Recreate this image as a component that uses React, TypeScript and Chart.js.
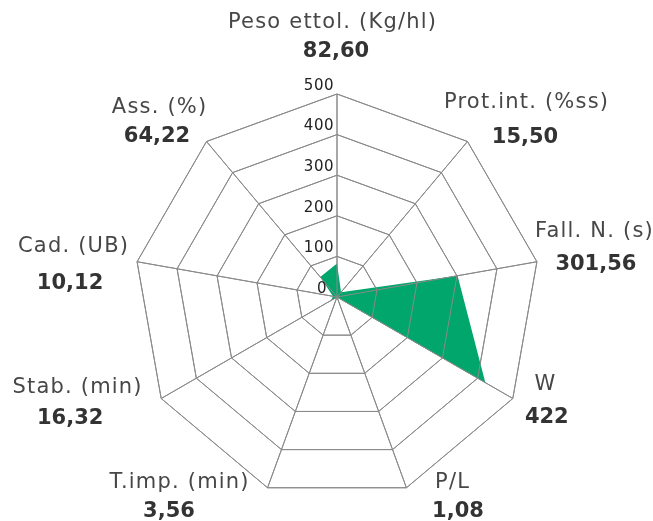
import React, { useEffect, useRef } from "react";
import { Chart, registerables } from "chart.js";
Chart.register(...registerables);

const categories = [
  "Peso ettol. (Kg/hl)",
  "Prot.int. (%ss)",
  "Fall. N. (s)",
  "W",
  "P/L",
  "T.imp. (min)",
  "Stab. (min)",
  "Cad. (UB)",
  "Ass. (%)",
];
const values = [82.6, 15.5, 301.56, 422, 1.08, 3.56, 16.32, 10.12, 64.22];
const valueLabels = ["82,60", "15,50", "301,56", "422", "1,08", "3,56", "16,32", "10,12", "64,22"];
const tickValues = [0, 100, 200, 300, 400, 500];

// layout: label offsets relative to each outer vertex
const NAME_OFFSETS = [
  [-5, -71], [58.5, -38.5], [57, -30], [32, -13.5], [45.6, -4.8],
  [-88.6, -4.8], [-84.2, -10.5], [-64.1, -14.8], [-47.5, -33.5],
];
const VALUE_OFFSETS = [
  [-1, -42], [57.5, -3.5], [59, 3], [34, 19.5], [51.6, 24],
  [-98.6, 24], [-91, 20.5], [-67, 22], [-49.5, -4.5],
];

const FONT = "'DejaVu Sans'";

const gridOnTopPlugin = {
  id: "gridOnTop",
  afterDatasetsDraw(chart: any) {
    const scale = chart.scales.r;
    scale.draw(chart.chartArea);
  },
};

const labelPlugin = {
  id: "radarLabels",
  afterDraw(chart: any) {
    const scale = chart.scales.r;
    const ctx = chart.ctx as CanvasRenderingContext2D;
    ctx.save();
    ctx.textAlign = "center";
    ctx.textBaseline = "middle";
    categories.forEach((name, i) => {
      const p = scale.getPointPosition(i, scale.drawingArea);
      ctx.font = `21px ${FONT}`;
      (ctx as any).letterSpacing = "1.2px";
      ctx.fillStyle = "#474747";
      ctx.fillText(name, p.x + NAME_OFFSETS[i][0] + 0.6, p.y + NAME_OFFSETS[i][1]);
      ctx.font = `bold 21px ${FONT}`;
      (ctx as any).letterSpacing = "0px";
      ctx.fillStyle = "#333333";
      ctx.fillText(valueLabels[i], p.x + VALUE_OFFSETS[i][0], p.y + VALUE_OFFSETS[i][1]);
    });
    ctx.font = `15px ${FONT}`;
    (ctx as any).letterSpacing = "0.5px";
    ctx.textAlign = "right";
    ctx.fillStyle = "#222222";
    tickValues.forEach((v) => {
      const d = scale.getDistanceFromCenterForValue(v);
      ctx.fillText(String(v), scale.xCenter - (v === 0 ? 10 : 3), scale.yCenter - d - 8);
    });
    ctx.restore();
  },
};

export default function App() {
  const ref = useRef<HTMLCanvasElement>(null);
  useEffect(() => {
    if (!ref.current) return;
    const chart = new Chart(ref.current, {
      type: "radar",
      data: {
        labels: categories,
        datasets: [
          {
            data: values,
            backgroundColor: "#00A66C",
            borderColor: "#00A66C",
            borderWidth: 0,
            pointRadius: 0,
            fill: true,
          },
        ],
      },
      options: {
        responsive: false,
        animation: false,
        layout: { padding: { left: 134, right: 113, top: 94, bottom: 21 } },
        plugins: { legend: { display: false }, tooltip: { enabled: false } },
        scales: {
          r: {
            min: 0,
            max: 500,
            ticks: { display: false, stepSize: 100 },
            grid: { color: "#8a8a8a", lineWidth: 1 },
            angleLines: { color: "#8a8a8a", lineWidth: 1 },
            pointLabels: { display: false },
          },
        },
      },
      plugins: [gridOnTopPlugin, labelPlugin],
    });
    return () => chart.destroy();
  }, []);
  return (
    <div style={{ position: "fixed", left: 0, top: 0, width: 653, height: 521, background: "#fff" }}>
      <canvas ref={ref} width={653} height={521} style={{ display: "block", width: 653, height: 521 }} />
    </div>
  );
}
